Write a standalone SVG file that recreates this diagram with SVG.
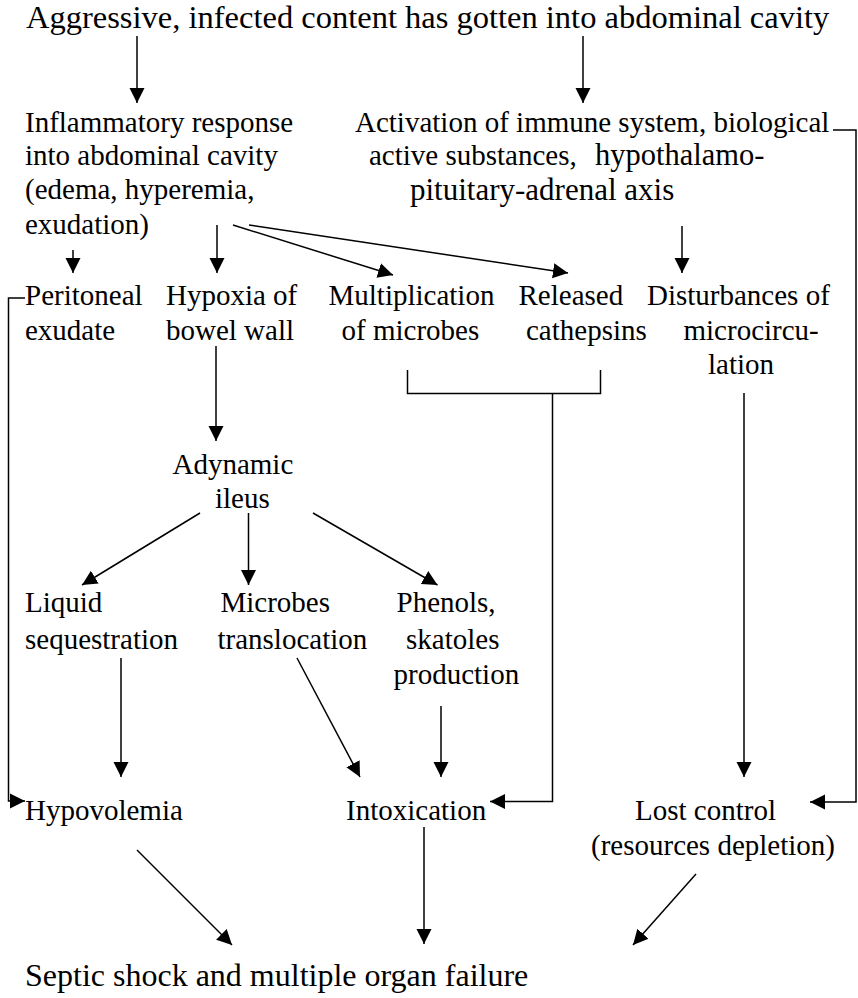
<svg xmlns="http://www.w3.org/2000/svg" width="858" height="998" viewBox="0 0 858 998">
<style>
text{font-family:"Liberation Serif","Times New Roman",serif;font-size:29px;fill:#000}
.big{font-size:32.5px}
.c{fill:none;stroke:#000;stroke-width:1.5}
</style>
<defs>
<marker id="ah" markerUnits="userSpaceOnUse" markerWidth="15" markerHeight="16" refX="15" refY="8" orient="auto">
<path d="M0,0.5 L15,8 L0,15.5 z" fill="#000"/>
</marker>
</defs>
<rect width="858" height="998" fill="#fff"/>
<g id="n_title"><text class="big" x="26" y="28">Aggressive, infected content has gotten into abdominal cavity</text></g>
<g id="n_inflam">
<text x="25" y="131.5">Inflammatory response</text>
<text x="25" y="165">into abdominal cavity</text>
<text x="25" y="199">(edema, hyperemia,</text>
<text x="25" y="234">exudation)</text>
</g>
<g id="n_immune">
<text x="355" y="131.5">Activation of immune system, biological</text>
<text x="369" y="165">active substances,<tspan x="595" style="font-size:30.5px">hypothalamo-</tspan></text>
<text x="410" y="200" style="font-size:31px">pituitary-adrenal axis</text>
</g>
<g id="n_peritoneal"><text x="25" y="304.5">Peritoneal</text><text x="25" y="339.5">exudate</text></g>
<g id="n_hypoxia"><text x="166" y="304.5">Hypoxia of</text><text x="166" y="339.5">bowel wall</text></g>
<g id="n_multiplication"><text x="328.5" y="304.5">Multiplication</text><text x="341.5" y="339.5">of microbes</text></g>
<g id="n_released"><text x="518.5" y="304.5">Released</text><text x="526" y="339.5">cathepsins</text></g>
<g id="n_disturbances"><text x="647" y="304.5">Disturbances of</text><text x="683.5" y="339.5">microcircu-</text><text x="708" y="373.5">lation</text></g>
<g id="n_adynamic"><text x="172.5" y="474">Adynamic</text><text x="215" y="508">ileus</text></g>
<g id="n_liquid"><text x="25" y="612">Liquid</text><text x="25" y="648.5">sequestration</text></g>
<g id="n_microbes"><text x="220.5" y="612">Microbes</text><text x="217.5" y="648.5">translocation</text></g>
<g id="n_phenols"><text x="396.5" y="612">Phenols,</text><text x="406" y="648.5">skatoles</text><text x="393.5" y="683.5">production</text></g>
<g id="n_hypovolemia"><text x="25" y="820">Hypovolemia</text></g>
<g id="n_intoxication"><text x="346" y="820">Intoxication</text></g>
<g id="n_lost"><text x="635" y="820">Lost control</text><text x="591" y="855">(resources depletion)</text></g>
<g id="n_septic"><text x="25" y="986" style="font-size:32px">Septic shock and multiple organ failure</text></g>
<g id="connectors" class="c">
<path class="c" marker-end="url(#ah)" d="M137,36 V103"/>
<path class="c" marker-end="url(#ah)" d="M583,36 V103"/>
<path class="c" marker-end="url(#ah)" d="M73,250 V273"/>
<path class="c" marker-end="url(#ah)" d="M217,225 V273"/>
<path class="c" marker-end="url(#ah)" d="M233,225 L393,275"/>
<path class="c" marker-end="url(#ah)" d="M249,225 L568,273"/>
<path class="c" marker-end="url(#ah)" d="M682,226 V273"/>
<path class="c" marker-end="url(#ah)" d="M833,130 H856 V802 H810"/>
<path class="c" marker-end="url(#ah)" d="M25,298 H8.5 V801 H25"/>
<path class="c" d="M407.5,370 V393.5 H600.5 V370"/>
<path class="c" marker-end="url(#ah)" d="M552.5,393.5 V801.5 H490"/>
<path class="c" marker-end="url(#ah)" d="M744,393 V777"/>
<path class="c" marker-end="url(#ah)" d="M216,346 V441"/>
<path class="c" marker-end="url(#ah)" d="M200,513 L82,585"/>
<path class="c" marker-end="url(#ah)" d="M248.5,513 V585"/>
<path class="c" marker-end="url(#ah)" d="M313,513 L437.5,585"/>
<path class="c" marker-end="url(#ah)" d="M121,658 V777"/>
<path class="c" marker-end="url(#ah)" d="M297,658 L360,777"/>
<path class="c" marker-end="url(#ah)" d="M441,706 V777"/>
<path class="c" marker-end="url(#ah)" d="M137,850 L232,945"/>
<path class="c" marker-end="url(#ah)" d="M424,827 V944"/>
<path class="c" marker-end="url(#ah)" d="M696,874 L633,945"/>
</g>
</svg>
